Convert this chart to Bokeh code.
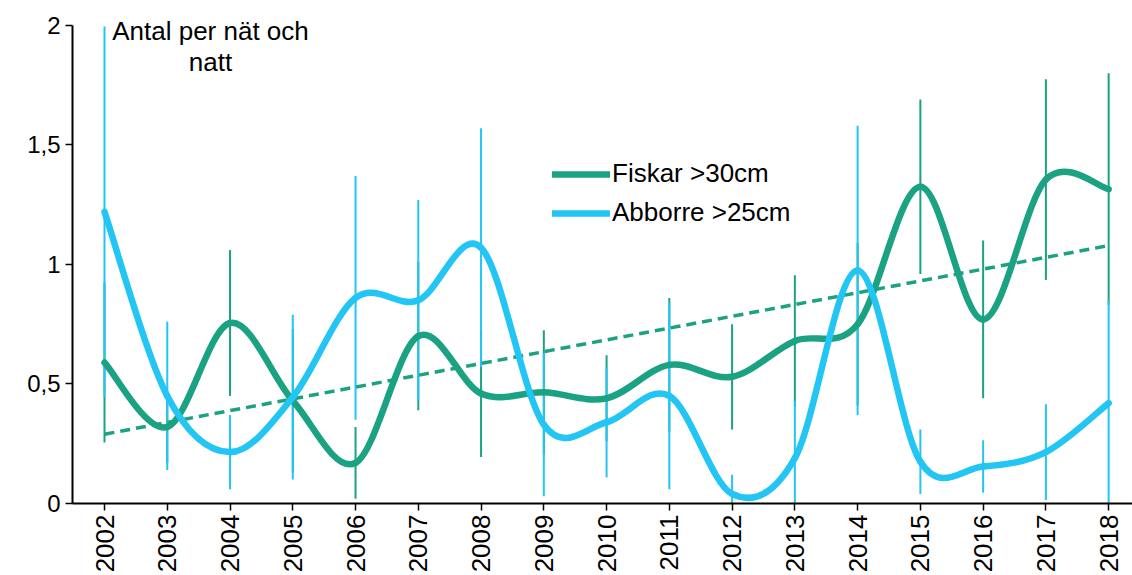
import numpy as np
from bokeh.plotting import figure
from bokeh.models import Range1d, FixedTicker, Legend, LegendItem, Label
from bokeh.embed import file_html
from bokeh.resources import INLINE

years = [2002, 2003, 2004, 2005, 2006, 2007, 2008, 2009, 2010,
         2011, 2012, 2013, 2014, 2015, 2016, 2017, 2018]
fiskar = [0.59, 0.32, 0.755, 0.43, 0.17, 0.70, 0.46, 0.465, 0.44,
          0.58, 0.53, 0.68, 0.75, 1.325, 0.77, 1.355, 1.315]
fiskar_err = [0.335, 0.15, 0.305, 0.30, 0.15, 0.31, 0.265, 0.26, 0.18,
              0.28, 0.22, 0.275, 0.34, 0.365, 0.33, 0.42, 0.485]
abborre = [1.22, 0.45, 0.215, 0.445, 0.86, 0.85, 1.07, 0.33, 0.34,
           0.45, 0.04, 0.19, 0.975, 0.175, 0.155, 0.215, 0.42]
abborre_err = [0.775, 0.31, 0.155, 0.345, 0.51, 0.42, 0.50, 0.30, 0.23,
               0.39, 0.08, 0.24, 0.605, 0.135, 0.11, 0.20, 0.43]
y_ticks = [0, 0.5, 1, 1.5, 2]
y_tick_labels = ["0", "0,5", "1", "1,5", "2"]
series_names = ["Fiskar >30cm", "Abborre >25cm"]
title_lines = ["Antal per nät och", "natt"]

GREEN = "#1BA282"
BLUE = "#22C5F4"
FONT = "Liberation Sans"

p = figure(width=1132, height=575, output_backend="svg", toolbar_location=None,
           x_range=Range1d(2001.49, 2018.38), y_range=Range1d(0, 2.0498),
           min_border_left=72, min_border_right=0, min_border_top=13,
           min_border_bottom=68)
p.outline_line_color = None
p.grid.visible = False
p.background_fill_color = "white"
p.border_fill_color = "white"


def excel_bezier(x, y):
    x = np.asarray(x, float)
    y = np.asarray(y, float)
    n = len(x)
    xp = np.concatenate([[x[0]], x, [x[-1]]])
    yp = np.concatenate([[y[0]], y, [y[-1]]])
    cx0 = xp[1:n] + (xp[2:n + 1] - xp[0:n - 1]) / 6
    cy0 = yp[1:n] + (yp[2:n + 1] - yp[0:n - 1]) / 6
    cx1 = xp[2:n + 1] - (xp[3:n + 2] - xp[1:n]) / 6
    cy1 = yp[2:n + 1] - (yp[3:n + 2] - yp[1:n]) / 6
    return dict(x0=x[:-1], y0=y[:-1], x1=x[1:], y1=y[1:],
                cx0=cx0, cy0=cy0, cx1=cx1, cy1=cy1)


yrs = np.array(years, float)
f = np.array(fiskar)
fe = np.array(fiskar_err)
a = np.array(abborre)
ae = np.array(abborre_err)

# error bars
p.segment(x0=yrs, y0=np.clip(f - fe, 0, None), x1=yrs, y1=f + fe,
          line_color=GREEN, line_width=2)
p.segment(x0=yrs, y0=np.clip(a - ae, 0, None), x1=yrs, y1=a + ae,
          line_color=BLUE, line_width=2)

# linear trend for Fiskar
k, m = np.polyfit(yrs, f, 1)
p.line(x=[yrs[0], yrs[-1]], y=[k * yrs[0] + m, k * yrs[-1] + m],
       line_color=GREEN, line_width=3.5, line_dash="10 6")

# smoothed lines
gf = p.bezier(**excel_bezier(yrs, f), line_color=GREEN, line_width=6.5, line_cap="round")
ga = p.bezier(**excel_bezier(yrs, a), line_color=BLUE, line_width=6.5, line_cap="round")

legend = Legend(items=[LegendItem(label=series_names[0], renderers=[gf]),
                       LegendItem(label=series_names[1], renderers=[ga])],
                location=(480, 275), orientation="vertical",
                label_text_font=FONT, label_text_font_size="26px",
                label_text_color="black",
                glyph_width=58, glyph_height=30, label_height=30,
                label_standoff=2, spacing=8, padding=0, margin=0,
                border_line_color=None, background_fill_alpha=0)
p.add_layout(legend)

# axes
p.yaxis.ticker = FixedTicker(ticks=y_ticks)
p.yaxis.major_label_overrides = {t: l for t, l in zip(y_ticks, y_tick_labels)}
p.yaxis.bounds = (y_ticks[0], y_ticks[-1])
p.xaxis.ticker = FixedTicker(ticks=years)
p.xaxis.major_label_overrides = {y: str(y) for y in years}
p.xaxis.major_label_orientation = np.pi / 2
for ax in (p.xaxis, p.yaxis):
    ax.axis_line_color = "black"
    ax.axis_line_width = 2
    ax.major_tick_line_color = "black"
    ax.major_tick_line_width = 1.5
    ax.major_tick_in = 0
    ax.major_tick_out = 7
    ax.minor_tick_line_color = None
    ax.major_label_text_font = FONT
    ax.major_label_text_color = "black"
p.yaxis.major_label_text_font_size = "24px"
p.xaxis.major_label_text_font_size = "26px"
p.xaxis.major_label_standoff = 4
p.yaxis.major_label_standoff = 5

p.add_layout(Label(x=138, y=473, x_units="screen", y_units="screen",
                   text=title_lines[0], text_align="center",
                   text_baseline="alphabetic", text_font=FONT,
                   text_font_size="26px", text_color="black"))
p.add_layout(Label(x=138, y=442, x_units="screen", y_units="screen",
                   text=title_lines[1], text_align="center",
                   text_baseline="alphabetic", text_font=FONT,
                   text_font_size="26px", text_color="black"))

open("out.html", "w").write(file_html(p, INLINE))
